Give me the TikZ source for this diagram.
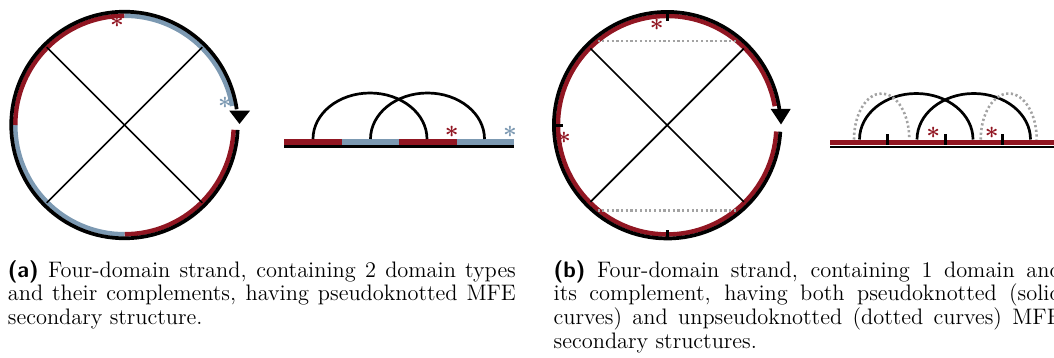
\documentclass[tikz,border=0pt]{standalone}
\usetikzlibrary{calc}
\definecolor{dred}{RGB}{145,22,34}
\definecolor{dblue}{RGB}{124,153,178}
\definecolor{dotgray}{RGB}{163,163,163}
\tikzset{
  blk/.style={line width=1.85pt, black},
  dom/.style={line width=2.3pt},
  chordline/.style={line width=0.85pt, black},
  pairarc/.style={line width=1.35pt, black},
  dotpair/.style={line width=1.3pt, dotgray, dash pattern=on 1.1pt off 1.25pt},
  barline/.style={line width=2.75pt},
  baseln/.style={line width=1.3pt, black},
  tickmark/.style={line width=1.5pt, black},
  starnode/.style={inner sep=0pt, font=\boldmath\fontsize{11.5}{12}\selectfont},
  captext/.style={anchor=north west, inner sep=0pt, text width=254pt, align=justify, font=\fontsize{11.2}{11.85}\selectfont},
  headfill/.style={fill=black, draw=none}
}
\begin{document}
\begin{tikzpicture}[x=0.5pt,y=-0.5pt]
\clip (0,0) rectangle (1054,358);
% ---------------- (a) circle ----------------
\coordinate (ca) at (124.5,125);
\draw[dom,dred]  ($(ca)+(2.5:109.3)$) arc[start angle=2.5, end angle=90, radius=109.3];
\draw[dom,dblue] ($(ca)+(90:109.3)$) arc[start angle=90, end angle=180, radius=109.3];
\draw[dom,dred]  ($(ca)+(180:109.3)$) arc[start angle=180, end angle=270, radius=109.3];
\draw[dom,dblue] ($(ca)+(270:109.3)$) arc[start angle=270, end angle=350, radius=109.3];
\draw[blk] ($(ca)+(2.5:113.3)$) arc[start angle=2.5, end angle=352, radius=113.3];
\coordinate (a1) at ($(ca)+(-135:110)$);
\coordinate (a2) at ($(ca)+(45:110)$);
\coordinate (a3) at ($(ca)+(-45:110)$);
\coordinate (a4) at ($(ca)+(135:110)$);
\draw[chordline] (a1) -- (a2);
\draw[chordline] (a3) -- (a4);
\fill[headfill] (229.3,110.7) -- (250,110.7) -- (239.5,124) -- cycle;
\node[starnode,text=dred] (sa1) at (117,22) {$\ast$};
\node[starnode,text=dblue] (sa2) at (225,103) {$\ast$};
% ---------------- (a) linear ----------------
\draw[barline,dred]  (284,141.8) -- (341.5,141.8);
\draw[barline,dblue] (341.5,141.8) -- (399,141.8);
\draw[barline,dred]  (399,141.8) -- (456.5,141.8);
\draw[barline,dblue] (456.5,141.8) -- (514,141.8);
\draw[baseln] (284,146.3) -- (514,146.3);
\draw[pairarc] (313,139) arc[start angle=180, end angle=360, x radius=57, y radius=46];
\draw[pairarc] (370.5,139) arc[start angle=180, end angle=360, x radius=57, y radius=46];
\node[starnode,text=dred] (sa3) at (451.7,131.7) {$\ast$};
\node[starnode,text=dblue] (sa4) at (510,131.7) {$\ast$};
% ---------------- (b) circle ----------------
\coordinate (cb) at (667.2,125.2);
\draw[dom,dred] ($(cb)+(3.3:109.3)$) arc[start angle=3.3, end angle=350, radius=109.3];
\draw[blk] ($(cb)+(3.3:113.3)$) arc[start angle=3.3, end angle=352, radius=113.3];
\draw[tickmark] ($(cb)+(270:115)$) -- ($(cb)+(270:104.5)$);
\draw[tickmark] ($(cb)+(180:115)$) -- ($(cb)+(180:104.5)$);
\draw[tickmark] ($(cb)+(90:115)$) -- ($(cb)+(90:104.5)$);
\coordinate (b1) at ($(cb)+(-135:108.5)$);
\coordinate (b2) at ($(cb)+(45:108.5)$);
\coordinate (b3) at ($(cb)+(-45:108.5)$);
\coordinate (b4) at ($(cb)+(135:108.5)$);
\draw[chordline] (b1) -- (b2);
\draw[chordline] (b3) -- (b4);
\coordinate (d1) at (597.5,41);
\coordinate (d2) at (736.5,41);
\coordinate (d3) at (597.5,210.5);
\coordinate (d4) at (736.5,210.5);
\draw[dotpair] (d1) -- (d2);
\draw[dotpair] (d3) -- (d4);
\fill[headfill] (770.7,109) -- (790.7,109) -- (781,124.5) -- cycle;
\node[starnode,text=dred] (sb1) at (656.7,25) {$\ast$};
\node[starnode,text=dred] (sb2) at (564,138.3) {$\ast$};
% ---------------- (b) linear ----------------
\draw[barline,dred] (830,142.3) -- (1070,142.3);
\draw[baseln] (830,147) -- (1070,147);
\draw[tickmark] (887.5,134) -- (887.5,145);
\draw[tickmark] (945,134) -- (945,145);
\draw[tickmark] (1002.5,134) -- (1002.5,145);
\draw[pairarc] (859.5,139.5) arc[start angle=180, end angle=360, x radius=56.75, y radius=46];
\draw[pairarc] (917,139.5) arc[start angle=180, end angle=360, x radius=56.75, y radius=46];
\draw[dotpair] (854,139.5) arc[start angle=180, end angle=360, x radius=27.65, y radius=46];
\draw[dotpair] (980.7,139.5) arc[start angle=180, end angle=360, x radius=28, y radius=46];
\node[starnode,text=dred] (sb3) at (933.3,133) {$\ast$};
\node[starnode,text=dred] (sb4) at (991.7,133) {$\ast$};
% ---------------- captions ----------------
\node[captext] (capa) at (7.5,260) {{\sffamily\bfseries (a)} Four-domain strand, containing 2 domain types\linebreak and their complements, having pseudoknotted MFE\linebreak secondary structure.};
\node[captext] (capb) at (553.3,260) {{\sffamily\bfseries (b)} Four-domain strand, containing 1 domain and\linebreak its complement, having both pseudoknotted (solid\linebreak curves) and unpseudoknotted (dotted curves) MFE\linebreak secondary structures.};
\end{tikzpicture}
\end{document}
